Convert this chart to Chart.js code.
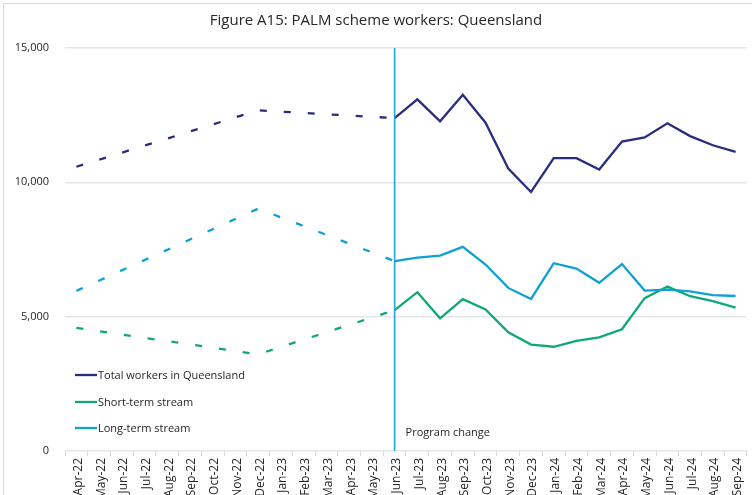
<!DOCTYPE html>
<html>
<head>
<meta charset="utf-8">
<script src="https://cdn.jsdelivr.net/npm/chart.js@4.4.1/dist/chart.umd.min.js"></script>
<style>
  html, body { margin: 0; padding: 0; background: #fff; overflow: hidden; }
  #wrap { position: relative; width: 752px; height: 505px; }
</style>
</head>
<body>
<div id="wrap"><canvas id="c" width="752" height="505"></canvas></div>
<script>
const categories = ['Apr-22','May-22','Jun-22','Jul-22','Aug-22','Sep-22','Oct-22','Nov-22','Dec-22','Jan-23','Feb-23','Mar-23','Apr-23','May-23',
  'Jun-23','Jul-23','Aug-23','Sep-23','Oct-23','Nov-23','Dec-23','Jan-24','Feb-24','Mar-24','Apr-24','May-24','Jun-24','Jul-24','Aug-24','Sep-24'];

// Before program change (dashed, only endpoints known)
const totalBefore = [10580,null,null,null,null,null,null,null,12680,null,null,null,null,null,12390,null,null,null,null,null,null,null,null,null,null,null,null,null,null,null];
const shortBefore = [4580,null,null,null,null,null,null,null,3600,null,null,null,null,null,5240,null,null,null,null,null,null,null,null,null,null,null,null,null,null,null];
const longBefore  = [5960,null,null,null,null,null,null,null,9020,null,null,null,null,null,7070,null,null,null,null,null,null,null,null,null,null,null,null,null,null,null];

// After program change (solid), Jun-23 .. Sep-24
const totalAfter = [12390,13090,12270,13260,12220,10510,9640,10900,10900,10480,11520,11670,12200,11720,11380,11130];
const shortAfter = [5240,5910,4940,5650,5270,4420,3960,3880,4100,4230,4530,5690,6120,5760,5580,5340];
const longAfter  = [7070,7200,7270,7600,6940,6070,5660,6990,6790,6260,6960,5970,6010,5940,5800,5770];

const yTicks = [0, 5000, 10000, 15000];
const seriesNames = ['Total workers in Queensland', 'Short-term stream', 'Long-term stream'];
const seriesColors = ['#2a2c7d', '#10a77b', '#0ea1d3'];
const changeLabel = 'Program change';
const changeIndex = 14;
const titleText = 'Figure A15: PALM scheme workers: Queensland';

const FONT = "'Open Sans', 'DejaVu Sans', sans-serif";

function pad(after) {
  const arr = new Array(categories.length - after.length).fill(null);
  return arr.concat(after);
}

function fmt(v) {
  return String(v).replace(/\B(?=(\d{3})+(?!\d))/g, ',');
}

const afterSeries = [totalAfter, shortAfter, longAfter];
const beforeSeries = [totalBefore, shortBefore, longBefore];

const datasets = [];
for (let i = 0; i < 3; i++) {
  datasets.push({
    label: seriesNames[i],
    data: pad(afterSeries[i]),
    borderColor: seriesColors[i],
    backgroundColor: seriesColors[i],
    borderWidth: 2.3,
    pointRadius: 0,
    tension: 0,
    spanGaps: false,
    order: 3 - i
  });
}
for (let i = 0; i < 3; i++) {
  datasets.push({
    label: seriesNames[i] + ' (before)',
    data: beforeSeries[i],
    borderColor: seriesColors[i],
    backgroundColor: seriesColors[i],
    borderWidth: 2.3,
    borderDash: [7, 17],
    pointRadius: 0,
    tension: 0,
    spanGaps: true,
    order: 6 - i
  });
}

const decor = {
  id: 'decor',
  beforeDraw(chart) {
    const ctx = chart.ctx;
    ctx.save();
    ctx.strokeStyle = '#d9d9d9';
    ctx.lineWidth = 1;
    ctx.strokeRect(3.5, 3.5, 900, 700);
    ctx.restore();
  },
  afterDatasetsDraw(chart) {
    const ctx = chart.ctx;
    const xs = chart.scales.x, ys = chart.scales.y;
    const x = xs.getPixelForValue(changeIndex);
    ctx.save();
    ctx.strokeStyle = '#1fa7dc';
    ctx.lineWidth = 1.6;
    ctx.beginPath();
    ctx.moveTo(x, ys.getPixelForValue(15000));
    ctx.lineTo(x, ys.getPixelForValue(0));
    ctx.stroke();
    ctx.fillStyle = '#262626';
    ctx.font = "11px " + FONT;
    ctx.textAlign = 'left';
    ctx.textBaseline = 'middle';
    ctx.fillText(changeLabel, x + 11, 433);

    // legend
    const lx = 75;
    const ly = [375, 402, 428];
    for (let i = 0; i < 3; i++) {
      ctx.strokeStyle = seriesColors[i];
      ctx.lineWidth = 2.3;
      ctx.beginPath();
      ctx.moveTo(lx, ly[i]);
      ctx.lineTo(lx + 22, ly[i]);
      ctx.stroke();
      ctx.fillStyle = '#262626';
      ctx.fillText(seriesNames[i], lx + 23, ly[i] + 0.5);
    }
    ctx.restore();
  }
};

Chart.defaults.font.family = FONT;
Chart.defaults.color = '#262626';

new Chart(document.getElementById('c'), {
  type: 'line',
  data: { labels: categories, datasets },
  plugins: [decor],
  options: {
    responsive: false,
    animation: false,
    layout: { padding: { left: 0, right: 0, top: 0, bottom: 0 } },
    plugins: {
      legend: { display: false },
      tooltip: { enabled: false },
      title: {
        display: true,
        text: titleText,
        color: '#262626',
        font: { size: 15, weight: 'normal', family: FONT, lineHeight: 1.2 },
        padding: { top: 12, bottom: 18 }
      }
    },
    scales: {
      x: {
        offset: true,
        grid: { display: true, drawOnChartArea: false, drawTicks: true, tickLength: 5, color: '#d9d9d9', offset: true },
        border: { display: false },
        ticks: { autoSkip: false, maxRotation: 90, minRotation: 90, padding: 2, labelOffset: 2, font: { size: 12 }, color: '#262626' },
        afterFit(scale) { scale.height = 54; }
      },
      y: {
        min: 0, max: 15000,
        afterBuildTicks(scale) { scale.ticks = yTicks.map(v => ({ value: v })); },
        grid: { color: '#e6e6e6', lineWidth: 1.5, drawTicks: false },
        border: { display: false },
        ticks: { padding: 16, font: { size: 11 }, color: '#262626', callback: (v) => fmt(v) },
        afterFit(scale) { scale.width = 65; }
      }
    }
  }
});
</script>
</body>
</html>
